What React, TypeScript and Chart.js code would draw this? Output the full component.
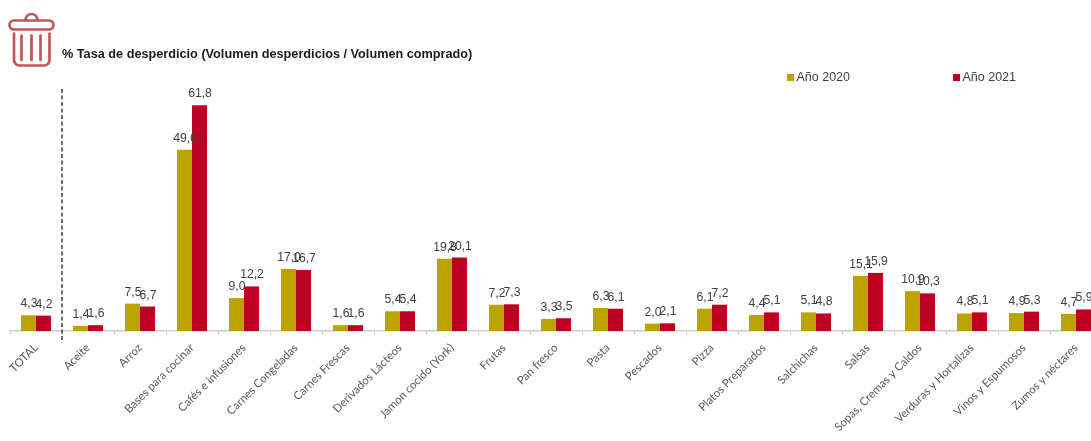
import React, { useEffect, useRef } from "react";
import { Chart, registerables } from "chart.js";

Chart.register(...registerables);

const categories = [
  "TOTAL", "Aceite", "Arroz", "Bases para cocinar", "Cafés e infusiones", "Carnes Congeladas",
  "Carnes Frescas", "Derivados Lácteos", "Jamon cocido (York)", "Frutas", "Pan fresco", "Pasta",
  "Pescados", "Pizza", "Platos Preparados", "Salchichas", "Salsas", "Sopas, Cremas y Caldos",
  "Verduras y Hortalizas", "Vinos y Espumosos", "Zumos y néctares",
];
const year2020 = [4.3, 1.4, 7.5, 49.6, 9.0, 17.0, 1.6, 5.4, 19.8, 7.2, 3.3, 6.3, 2.0, 6.1, 4.4, 5.1, 15.1, 10.9, 4.8, 4.9, 4.7];
const year2021 = [4.2, 1.6, 6.7, 61.8, 12.2, 16.7, 1.6, 5.4, 20.1, 7.3, 3.5, 6.1, 2.1, 7.2, 5.1, 4.8, 15.9, 10.3, 5.1, 5.3, 5.9];

const GOLD = "#BDA300";
const RED = "#BD0021";
const TITLE = "% Tasa de desperdicio (Volumen desperdicios / Volumen comprado)";
const SANS = '"Liberation Sans", Arial, sans-serif';

// Writes each bar's value above it with a decimal comma.
const valueLabels = {
  id: "valueLabels",
  afterDatasetsDraw(chart: any) {
    const { ctx } = chart;
    ctx.save();
    ctx.font = `12.2px ${SANS}`;
    ctx.fillStyle = "#404040";
    ctx.textAlign = "center";
    ctx.textBaseline = "alphabetic";
    chart.data.datasets.forEach((ds: any, i: number) => {
      chart.getDatasetMeta(i).data.forEach((bar: any, j: number) => {
        ctx.fillText(ds.data[j].toFixed(1).replace(".", ","), bar.x + 0.5, bar.y - 8);
      });
    });
    ctx.restore();
  },
};

// Dashed rule separating the TOTAL group from the product groups.
const totalDivider = {
  id: "totalDivider",
  afterDraw(chart: any) {
    const { ctx, scales } = chart;
    const x = (scales.x.getPixelForValue(0) + scales.x.getPixelForValue(1)) / 2;
    ctx.save();
    ctx.strokeStyle = "#404040";
    ctx.lineWidth = 1.5;
    ctx.setLineDash([4, 2.5]);
    ctx.beginPath();
    ctx.moveTo(x, 89);
    ctx.lineTo(x, 343);
    ctx.stroke();
    ctx.restore();
  },
};

function LegendItem({ color, text, left }: { color: string; text: string; left: number }) {
  return (
    <div style={{ position: "absolute", left, top: 70, height: 14, display: "flex", alignItems: "center", font: `12.5px ${SANS}`, color: "#404040", whiteSpace: "nowrap" }}>
      <span style={{ width: 7, height: 7, background: color, marginRight: 2.5 }} />
      {text}
    </div>
  );
}

export default function App() {
  const canvasRef = useRef<HTMLCanvasElement>(null);

  useEffect(() => {
    const chart = new Chart(canvasRef.current as HTMLCanvasElement, {
      type: "bar",
      data: {
        labels: categories,
        datasets: [
          { label: "Año 2020", data: year2020, backgroundColor: GOLD, categoryPercentage: 30 / 52, barPercentage: 1 },
          { label: "Año 2021", data: year2021, backgroundColor: RED, categoryPercentage: 30 / 52, barPercentage: 1 },
        ],
      },
      options: {
        responsive: false,
        animation: false,
        layout: { padding: { left: 10, right: 0, top: 100, bottom: 0 } },
        plugins: { legend: { display: false }, title: { display: false }, tooltip: { enabled: false } },
        scales: {
          x: {
            offset: true,
            afterFit: (scale: any) => { scale.height = 110; },
            grid: { drawOnChartArea: false, drawTicks: true, tickLength: 4, color: "#CFCFCF", lineWidth: 1 },
            border: { color: "#CFCFCF", width: 1.5 },
            ticks: {
              autoSkip: false,
              minRotation: 45,
              maxRotation: 45,
              padding: 6,
              color: "#595959",
              font: { family: 'Lato, sans-serif', size: 11.4 },
            },
          },
          y: { display: false, min: 0, max: 63.25 },
        },
      },
      plugins: [valueLabels, totalDivider],
    } as any);
    return () => chart.destroy();
  }, []);

  return (
    <div style={{ position: "absolute", left: 0, top: 0, width: 1091, height: 441, overflow: "hidden", background: "#fff" }}>
      <canvas ref={canvasRef} width={1102} height={441} style={{ position: "absolute", left: 0, top: 0 }} />
      <svg width={60} height={70} style={{ position: "absolute", left: 0, top: 0 }} fill="none" stroke="#C0555A" strokeWidth={2.7} strokeLinecap="round">
        <rect x={9.5} y={20.5} width={44} height={9} rx={4.5} />
        <path d="M25.5 20 a6 6 0 0 1 12 0" />
        <path d="M14 33.5 V60 a5.5 5.5 0 0 0 5.5 5.5 H44 a5.5 5.5 0 0 0 5.5 -5.5 V33.5" />
        <path d="M21.5 35.5 V60 M31.5 35.5 V60 M40.5 35.5 V60" />
      </svg>
      <div style={{ position: "absolute", left: 62, top: 47, font: `bold 12.7px ${SANS}`, color: "#1a1a1a", whiteSpace: "nowrap" }}>{TITLE}</div>
      <LegendItem color={GOLD} text="Año 2020" left={787} />
      <LegendItem color={RED} text="Año 2021" left={953} />
    </div>
  );
}
